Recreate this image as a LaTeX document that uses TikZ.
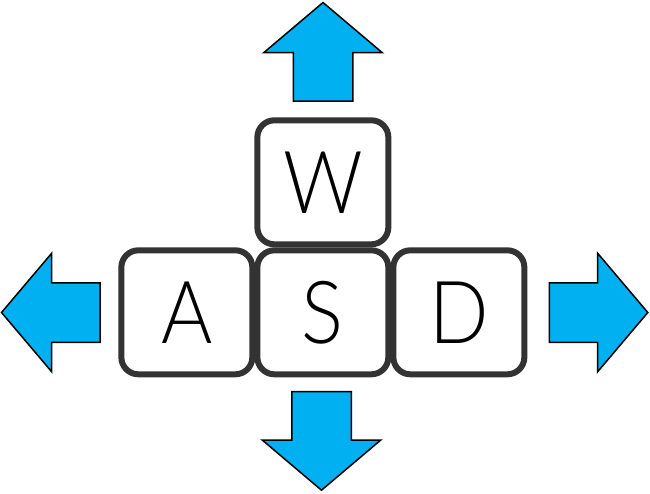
\documentclass[tikz,border=0pt]{standalone}
\usepackage{fontspec}
\newfontfamily\keyfont{Lato Light}[FakeStretch=0.9]
\usetikzlibrary{shapes.arrows}
\definecolor{keyrim}{HTML}{333333}
\definecolor{arrowblue}{HTML}{00B0F0}

\begin{document}
\begin{tikzpicture}[x=1pt, y=-1pt, node distance=136pt]
        \tikzstyle{keycap}=[rectangle,draw=keyrim,fill=white,line width=6pt,rounded corners=17pt,minimum width=131pt,minimum height=124pt,inner sep=0pt,font=\keyfont\fontsize{87}{87}\selectfont]
        \tikzstyle{movearrow}=[single arrow,draw=black,fill=arrowblue,line width=1.5pt,minimum height=98.5pt,minimum width=0pt,inner xsep=0pt,inner ysep=29pt,outer sep=0pt,single arrow head extend=29.5pt,single arrow tip angle=99.5,anchor=tail]

        \useasboundingbox (0,0) rectangle (650,493);

        \node[keycap] (s) at (322.85,312.3) {S};
        \node[keycap, left of=s] (a) {A};
        \node[keycap, right of=s] (d) {D};
        \node[keycap, above of=s, node distance=130pt] (w) {W};

        \node[movearrow, rotate=90] (up) at (323,101) {};
        \node[movearrow, rotate=-90] (down) at (321.5,391.7) {};
        \node[movearrow, rotate=180] (left) at (100,312.5) {};
        \node[movearrow] (right) at (549.3,312.5) {};
\end{tikzpicture}
\end{document}
